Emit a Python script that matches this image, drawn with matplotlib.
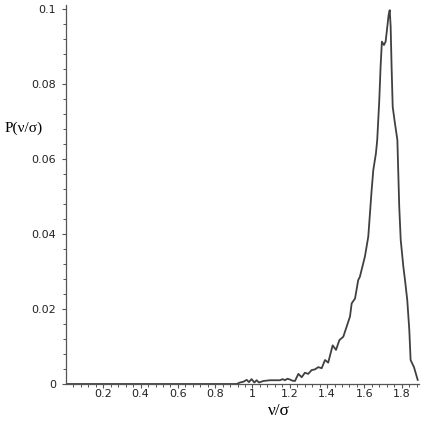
import matplotlib
matplotlib.use("Agg")
import matplotlib.pyplot as plt
import numpy as np

# ratio v/sigma and probability P(v/sigma)
ratio = [0.0, 0.915, 0.933, 0.951, 0.969, 0.981, 0.995, 1.010, 1.022, 1.035,
         1.058, 1.094, 1.147, 1.162, 1.174, 1.187, 1.201, 1.213, 1.228, 1.246,
         1.264, 1.281, 1.299, 1.317, 1.335, 1.353, 1.371, 1.389, 1.406, 1.430,
         1.448, 1.466, 1.487, 1.505, 1.523, 1.532, 1.550, 1.567, 1.576, 1.603,
         1.621, 1.630, 1.639, 1.648, 1.662, 1.669, 1.680, 1.687, 1.694, 1.705,
         1.714, 1.720, 1.730, 1.736, 1.741, 1.746, 1.752, 1.764, 1.777, 1.782,
         1.787, 1.795, 1.809, 1.818, 1.830, 1.841, 1.848, 1.866, 1.886]
prob = [0.0, 0.0, 0.0004, 0.0006, 0.0011, 0.0005, 0.0013, 0.0004, 0.0010, 0.0004,
        0.0008, 0.0010, 0.0010, 0.0013, 0.0010, 0.0014, 0.0012, 0.0009, 0.0008, 0.0027,
        0.0018, 0.0030, 0.0027, 0.0037, 0.0039, 0.0045, 0.0042, 0.0064, 0.0057, 0.0103,
        0.0091, 0.0117, 0.0126, 0.0153, 0.0180, 0.0215, 0.0228, 0.0277, 0.0286, 0.0340,
        0.0393, 0.0455, 0.0517, 0.0571, 0.0615, 0.0651, 0.0757, 0.0846, 0.0913, 0.0904,
        0.0913, 0.0939, 0.0984, 0.0997, 0.0953, 0.0846, 0.0739, 0.0695, 0.0651, 0.0562,
        0.0473, 0.0384, 0.0313, 0.0277, 0.0224, 0.0144, 0.0064, 0.0045, 0.0011]

xticks = [0.2, 0.4, 0.6, 0.8, 1.0, 1.2, 1.4, 1.6, 1.8]
xticklabels = ["0.2", "0.4", "0.6", "0.8", "1", "1.2", "1.4", "1.6", "1.8"]
yticks = [0, 0.02, 0.04, 0.06, 0.08, 0.1]
yticklabels = ["0", "0.02", "0.04", "0.06", "0.08", "0.1"]

fig = plt.figure(figsize=(4.21, 4.29), dpi=100)
ax = fig.add_axes([66 / 421, 1 - 384 / 429, (419 - 66) / 421, 379 / 429])

ax.plot(ratio, prob, color="#404040", linewidth=1.3)

ax.set_xlim(0, 1.893)
ax.set_ylim(0, 0.10107)

for side in ["top", "right"]:
    ax.spines[side].set_visible(False)
for side in ["left", "bottom"]:
    ax.spines[side].set_color("#555555")
    ax.spines[side].set_linewidth(0.9)

ax.set_xticks(xticks)
ax.set_xticklabels(xticklabels)
ax.set_yticks(yticks)
ax.set_yticklabels(yticklabels)
ax.set_xticks(np.arange(0.04, 1.89, 0.04), minor=True)
ax.set_yticks(np.arange(0.004, 0.1, 0.004), minor=True)

ax.tick_params(which="major", length=3, width=0.8, color="#555555",
               labelsize=8, labelcolor="#222222")
ax.tick_params(which="minor", length=2.2, width=0.7, color="#555555")
ax.tick_params(axis="y", which="major", pad=4)
ax.tick_params(axis="x", which="major", pad=0.5)

fig.text(5 / 421, 1 - 128 / 429, "P(ν/σ)", family="Liberation Serif",
         fontsize=11, ha="left", va="center")
fig.text(279 / 421, 1 - 411 / 429, "ν/σ", family="Liberation Serif",
         fontsize=12.5, ha="center", va="center")

fig.savefig("out.png", dpi=100)
